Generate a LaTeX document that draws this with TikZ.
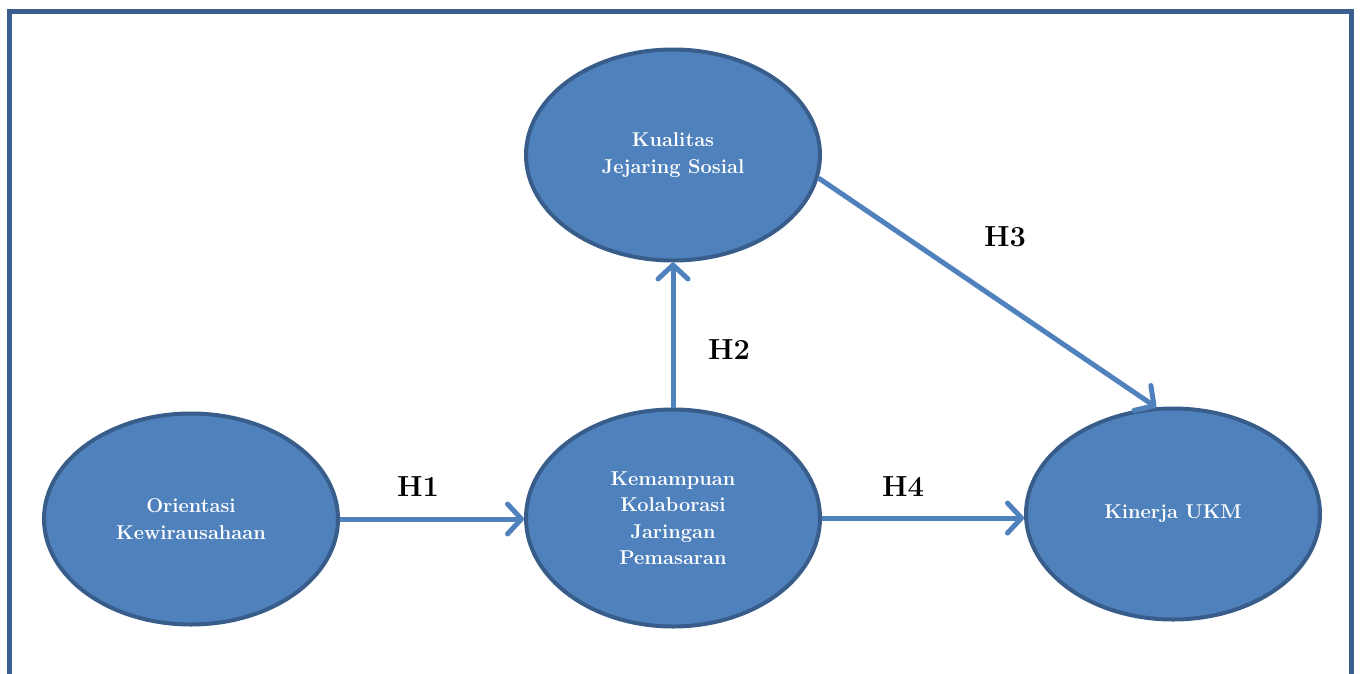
\documentclass[tikz,border=0pt]{standalone}
\usepackage{fontspec}
\usetikzlibrary{arrows.meta,shapes.geometric}
\definecolor{efill}{HTML}{4F81BD}
\definecolor{eline}{HTML}{385D8A}
\definecolor{frame}{HTML}{3A5F8E}
\tikzset{
  var/.style={ellipse, draw=eline, line width=4pt, fill=efill, text=white,
    minimum width=294pt, minimum height=211pt, inner sep=0pt, align=center,
    font=\fontsize{20}{26.5}\selectfont\bfseries},
  conn/.style={draw=efill, line width=5pt,
    -{Straight Barb[length=14pt, width=30pt, round]}},
  hlab/.style={font=\fontsize{29}{32}\selectfont\bfseries, text=black, inner sep=0pt}
}
\begin{document}
\begin{tikzpicture}[x=1pt,y=-1pt]
\useasboundingbox (0,0) rectangle (1361,673);
\draw[frame, line width=5pt] (9.5,680) -- (9.5,11.5) -- (1351.5,11.5) -- (1351.5,680);
\node[var] (ok) at (191,519) {Orientasi\\Kewirausahaan};
\node[var, minimum height=217pt] (kk) at (673,518) {Kemampuan\\Kolaborasi\\Jaringan\\Pemasaran};
\node[var] (kj) at (673,155) {Kualitas\\Jejaring Sosial};
\node[var] (ku) at (1173,514) {\raisebox{-3pt}{Kinerja UKM}};
\draw[conn] (ok.east) -- (ok.east -| kk.west);
\draw[conn] (kk.north) -- (kj.south);
\draw[conn] (kj.-9) -- (ku.99);
\draw[conn] (kk.east) -- (kk.east -| ku.west);
\node[hlab] (h1) at (418,487) {H1};
\node[hlab] (h2) at (729,350) {H2};
\node[hlab] (h3) at (1005,237) {H3};
\node[hlab] (h4) at (903,487) {H4};
\end{tikzpicture}
\end{document}
